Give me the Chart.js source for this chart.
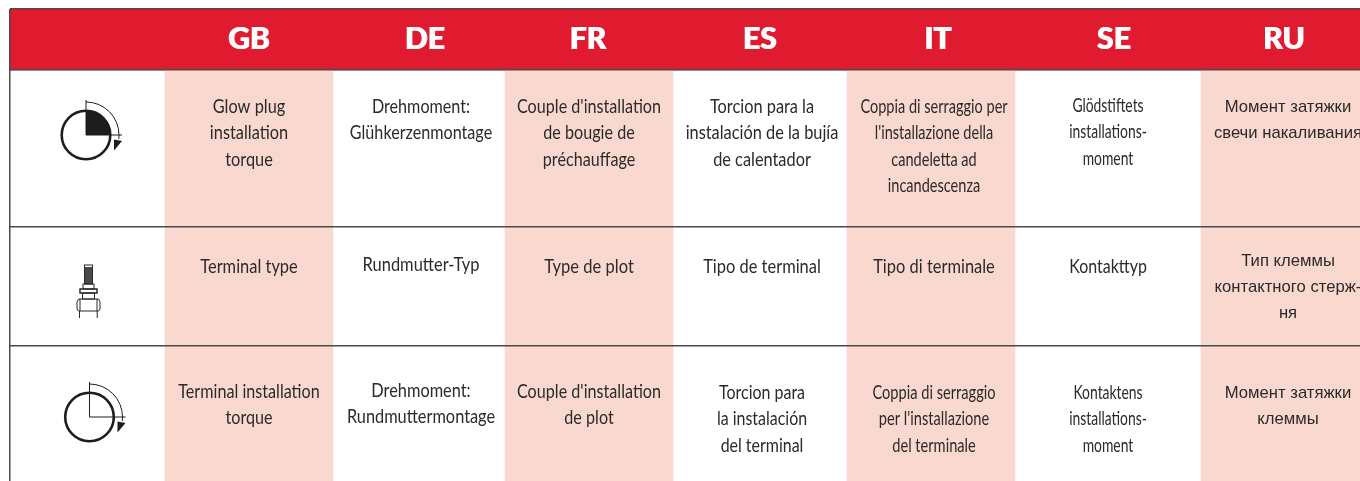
<!DOCTYPE html>
<html>
<head>
<meta charset="utf-8">
<script src="https://cdn.jsdelivr.net/npm/chart.js@4"></script>
<style>
html,body{margin:0;padding:0;background:#fff;overflow:hidden}
canvas{display:block}
</style>
</head>
<body>
<canvas id="myChart" width="1360" height="481"></canvas>
<script>
// table content
var categories = ["GB", "DE", "FR", "ES", "IT", "SE", "RU"];
var gb = [["Glow plug", "installation", "torque"], ["Terminal type"], ["Terminal installation", "torque"]];
var de = [["Drehmoment:", "Glühkerzenmontage"], ["Rundmutter-Typ"], ["Drehmoment:", "Rundmuttermontage"]];
var fr = [["Couple d'installation", "de bougie de", "préchauffage"], ["Type de plot"], ["Couple d'installation", "de plot"]];
var es = [["Torcion para la", "instalación de la bujía", "de calentador"], ["Tipo de terminal"], ["Torcion para", "la instalación", "del terminal"]];
var it = [["Coppia di serraggio per", "l'installazione della", "candeletta ad", "incandescenza"], ["Tipo di terminale"], ["Coppia di serraggio", "per l'installazione", "del terminale"]];
var se = [["Glödstiftets", "installations-", "moment"], ["Kontakttyp"], ["Kontaktens", "installations-", "moment"]];
var ru = [["Момент затяжки", "свечи накаливания"], ["Тип клеммы", "контактного стерж-", "ня"], ["Момент затяжки", "клеммы"]];
var columns = [gb, de, fr, es, it, se, ru];

// layout of the page, in table pixels
var headCentres = [248.5, 424.5, 587.5, 759.5, 937.5, 1113.5, 1283.5];
var cellCentres = [249, 421, 589, 762, 934, 1108, 1288];
var bandCentres = [249, 589, 931, 1285];
var rules = [9, 70, 227, 346];
// first line of each cell, by column then row
var firstLine = [
    [107, 267, 392], [107, 265, 391], [107, 267, 392], [107, 267, 393],
    [107, 267, 393], [106, 267, 393], [107.5, 261, 393.5]
];
// horizontal squeeze of each cell, the printed face is narrower than Lato
var squeeze = [
    [0.86, 0.865, 0.85], [0.85, 0.865, 0.86], [0.85, 0.87, 0.85], [0.86, 0.865, 0.84],
    [0.765, 0.865, 0.77], [0.73, 0.84, 0.73], [0.98, 0.98, 0.98]
];

var textColor = "#2b2a29";

function arcIcon(ctx, x, y, sx, sy, filled) {
    var cx = x.getPixelForValue(sx), cy = y.getPixelForValue(sy);
    ctx.save();
    ctx.strokeStyle = "#1f1c1d";
    ctx.fillStyle = "#1f1c1d";
    if (filled) {
        ctx.beginPath();
        ctx.moveTo(cx, cy);
        ctx.arc(cx, cy, 24, -Math.PI / 2, 0);
        ctx.closePath();
        ctx.fill();
    }
    ctx.lineWidth = 2.6;
    ctx.beginPath();
    ctx.arc(cx, cy, 24.3, 0, Math.PI * 2);
    ctx.stroke();
    ctx.lineWidth = 1;
    ctx.beginPath();
    ctx.moveTo(cx, cy - 35);
    ctx.lineTo(cx, cy);
    ctx.lineTo(cx + 36, cy);
    ctx.moveTo(cx, cy - 33);
    ctx.arc(cx, cy, 33, -Math.PI / 2, 0.12);
    ctx.stroke();
    ctx.beginPath();
    ctx.moveTo(cx + 28, cy + 4.5);
    ctx.lineTo(cx + 36, cy + 6);
    ctx.lineTo(cx + 28, cy + 15.5);
    ctx.closePath();
    ctx.fill();
    ctx.restore();
}

function plugIcon(ctx, x, y, sx, sy) {
    var cx = x.getPixelForValue(sx), top = y.getPixelForValue(sy);
    ctx.save();
    ctx.strokeStyle = "#2a2728";
    ctx.lineWidth = 1;
    // threaded stud
    ctx.fillStyle = "#4a4748";
    ctx.fillRect(cx - 4, top + 3, 8, 17);
    ctx.strokeRect(cx - 4, top + 1, 8, 19);
    ctx.strokeRect(cx - 5.5, top + 20, 11, 5);
    // flange and neck
    ctx.lineWidth = 1.5;
    ctx.strokeRect(cx - 8.5, top + 25, 17, 4);
    ctx.lineWidth = 1;
    ctx.strokeRect(cx - 6, top + 29, 12, 6);
    // hex nut
    ctx.beginPath();
    ctx.moveTo(cx - 10, top + 35);
    ctx.lineTo(cx + 10, top + 35);
    ctx.lineTo(cx + 11.5, top + 38);
    ctx.lineTo(cx + 11.5, top + 45);
    ctx.lineTo(cx + 10, top + 47);
    ctx.lineTo(cx - 10, top + 47);
    ctx.lineTo(cx - 11.5, top + 45);
    ctx.lineTo(cx - 11.5, top + 38);
    ctx.closePath();
    ctx.moveTo(cx - 8.5, top + 35);
    ctx.lineTo(cx - 8.5, top + 47);
    ctx.moveTo(cx + 8.5, top + 35);
    ctx.lineTo(cx + 8.5, top + 47);
    // body
    ctx.moveTo(cx - 9, top + 47);
    ctx.lineTo(cx - 9, top + 54);
    ctx.moveTo(cx + 8.7, top + 47);
    ctx.lineTo(cx + 8.7, top + 54);
    ctx.stroke();
    ctx.restore();
}

var tablePlugin = {
    id: "tableText",
    afterDatasetsDraw: function (chart) {
        var ctx = chart.ctx, x = chart.scales.x, y = chart.scales.y;
        ctx.save();
        ctx.textAlign = "center";
        ctx.textBaseline = "middle";
        ctx.fillStyle = "#fff";
        ctx.font = "900 30px Lato";
        // shadow thickens the header letters, Lato is lighter than the printed face
        ctx.shadowColor = "#fff";
        ctx.shadowOffsetX = 1;
        for (var h = 0; h < categories.length; h++) {
            ctx.fillText(categories[h], x.getPixelForValue(headCentres[h]), y.getPixelForValue(39.5));
        }
        ctx.shadowColor = "transparent";
        ctx.shadowOffsetX = 0;
        ctx.fillStyle = textColor;
        for (var c = 0; c < columns.length; c++) {
            ctx.font = c == 6 ? "17px 'Liberation Sans'" : "19px Lato";
            for (var r = 0; r < columns[c].length; r++) {
                var lines = columns[c][r];
                for (var l = 0; l < lines.length; l++) {
                    ctx.save();
                    ctx.translate(x.getPixelForValue(cellCentres[c]), y.getPixelForValue(firstLine[c][r] + l * 26.2));
                    ctx.scale(squeeze[c][r], 1);
                    ctx.fillText(lines[l], 0, 0);
                    ctx.restore();
                }
            }
        }
        ctx.restore();
        arcIcon(ctx, x, y, 86, 135, true);
        plugIcon(ctx, x, y, 88.5, 264);
        arcIcon(ctx, x, y, 89.5, 417, false);
    }
};

var ctx = document.getElementById("myChart").getContext("2d");
var chart = new Chart(ctx, {
    type: "bar",
    plugins: [tablePlugin],
    data: {
        datasets: [{
            // pink column bands
            data: bandCentres.map(function (c) { return { x: c, y: [70, 481] }; }),
            backgroundColor: "#f9d9cf",
            barThickness: 168,
            grouped: false
        }, {
            // red header
            data: [{ x: 685, y: [9, 70] }],
            backgroundColor: "#e11b2f",
            barThickness: 1350,
            grouped: false
        }]
    },
    options: {
        responsive: false,
        animation: false,
        layout: { padding: { left: 10, top: 9 } },
        plugins: { legend: { display: false }, tooltip: { enabled: false } },
        scales: {
            x: {
                type: "linear",
                min: 10,
                max: 1360,
                offset: false,
                ticks: { display: false },
                border: { display: false },
                afterBuildTicks: function (axis) { axis.ticks = [{ value: 10 }]; },
                grid: { offset: false, drawTicks: false, color: "#4a4a4a", lineWidth: 1.5, z: 1 }
            },
            y: {
                min: 9,
                max: 481,
                reverse: true,
                ticks: { display: false },
                border: { display: false },
                afterBuildTicks: function (axis) {
                    axis.ticks = rules.map(function (v) { return { value: v }; });
                },
                grid: { drawTicks: false, color: "#4a4a4a", lineWidth: 1.5, z: 1 }
            }
        }
    }
});
</script>
</body>
</html>
